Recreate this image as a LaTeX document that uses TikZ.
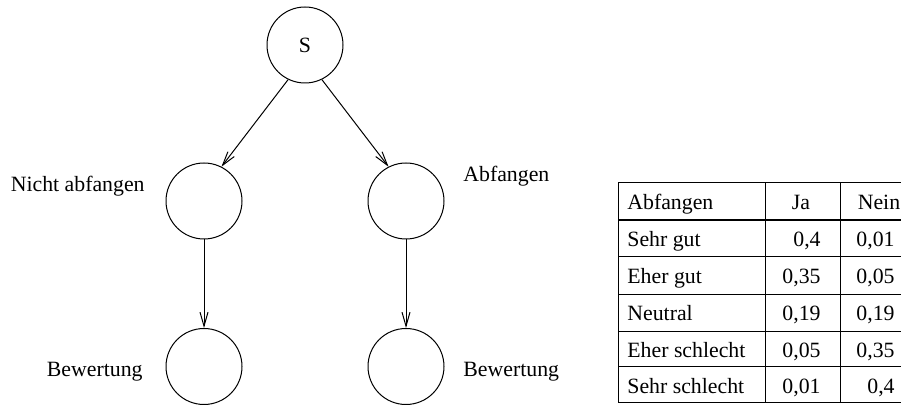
\documentclass[tikz,border=0pt]{standalone}
\usepackage{fontspec}
\setmainfont{Liberation Serif}
\usetikzlibrary{arrows.meta}
\begin{document}
\begin{tikzpicture}[x=0.5pt,y=-0.5pt,
  every node/.style={font=\fontsize{10.9}{13}\selectfont},
  state/.style={circle,draw,line width=0.5pt,minimum size=38pt,inner sep=0pt},
  lbl/.style={inner sep=0pt},
  edge/.style={line width=0.5pt,-{Straight Barb[length=7pt,width=4pt]}},
  grid/.style={line width=0.5pt},
  headrule/.style={line width=1.2pt}]
\clip (0,0) rectangle (901,405);

% network
\node[state] (S)  at (305,45) {S};
\node[state] (L)  at (204,201) {};
\node[state] (R)  at (406,201) {};
\node[state] (LB) at (204,366.5) {};
\node[state] (RB) at (406,366.5) {};

\draw[edge] (S.244) -- (L.63);
\draw[edge] (S.296) -- (R.117);
\draw[edge] (L) -- (LB);
\draw[edge] (R) -- (RB);

\node[lbl,anchor=base east] (tL)  at (145,192) {Nicht abfangen};
\node[lbl,anchor=base west] (tR)  at (463,181.5) {Abfangen};
\node[lbl,anchor=base east] (tLB) at (143,377) {Bewertung};
\node[lbl,anchor=base west] (tRB) at (463,377) {Bewertung};

% probability table
\draw[grid] (618,182.5) rectangle (913,403);
\draw[grid] (765,182.5) -- (765,403);
\draw[grid] (840,182.5) -- (840,403);
\draw[headrule] (618,220) -- (913,220);
\foreach \y in {257,294.3,331.5,367}
  \draw[grid] (618,\y) -- (913,\y);

\node[lbl,anchor=base west] (h0) at (627,209.5) {Abfangen};
\node[lbl,anchor=base] (h1) at (801,209.5) {Ja};
\node[lbl,anchor=base] (h2) at (879,209.5) {Nein};

\node[lbl,anchor=base west] (a1) at (627,247) {Sehr gut};
\node[lbl,anchor=base east] (b1) at (821,247) {0,4};
\node[lbl,anchor=base east] (c1) at (895,247) {0,01};

\node[lbl,anchor=base west] (a2) at (627,284) {Eher gut};
\node[lbl,anchor=base east] (b2) at (821,284) {0,35};
\node[lbl,anchor=base east] (c2) at (895,284) {0,05};

\node[lbl,anchor=base west] (a3) at (627,321) {Neutral};
\node[lbl,anchor=base east] (b3) at (821,321) {0,19};
\node[lbl,anchor=base east] (c3) at (895,321) {0,19};

\node[lbl,anchor=base west] (a4) at (627,357.5) {Eher schlecht};
\node[lbl,anchor=base east] (b4) at (821,357.5) {0,05};
\node[lbl,anchor=base east] (c4) at (895,357.5) {0,35};

\node[lbl,anchor=base west] (a5) at (627,393.5) {Sehr schlecht};
\node[lbl,anchor=base east] (b5) at (821,393.5) {0,01};
\node[lbl,anchor=base east] (c5) at (895,393.5) {0,4};
\end{tikzpicture}
\end{document}
